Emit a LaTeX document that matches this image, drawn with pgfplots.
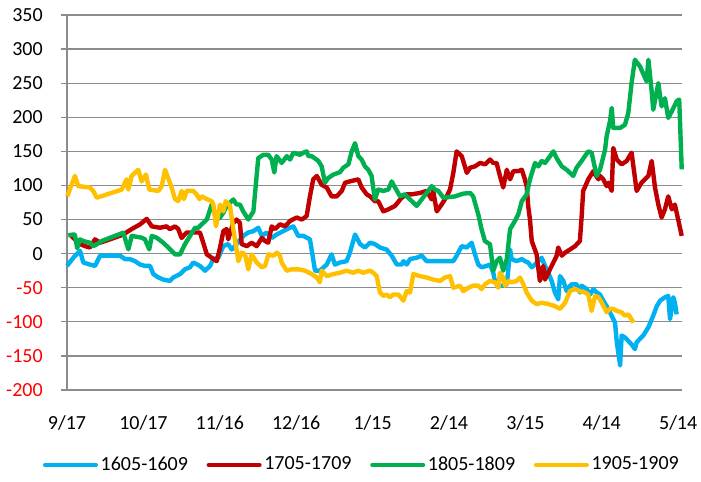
\documentclass[border=0pt]{standalone}
\usepackage{fontspec}
\setmainfont{Carlito}
\usepackage{pgfplots}
\pgfplotsset{compat=1.18}
\definecolor{sBlue}{RGB}{0,176,240}
\definecolor{sRed}{RGB}{192,0,0}
\definecolor{sGreen}{RGB}{0,176,80}
\definecolor{sYellow}{RGB}{255,192,0}
\definecolor{gridgray}{RGB}{140,140,140}
\begin{document}
\fontsize{15}{18}\selectfont
\begin{tikzpicture}
\begin{axis}[
  scale only axis, width=461.25pt, height=281.25pt,
  xmin=0, xmax=241.5, ymin=-200, ymax=350,
  axis x line=bottom, axis y line=left,
  axis line style={-, draw=gridgray, line width=0.9pt},
  ytick={-200,-150,...,350},
  yticklabels={\textcolor{red}{-200},\textcolor{red}{-150},\textcolor{red}{-100},\textcolor{red}{-50},0,50,100,150,200,250,300,350},
  ymajorgrids, grid style={draw=gridgray, line width=0.9pt},
  xtick={0,30,...,240},
  xticklabels={9/17,10/17,11/16,12/16,1/15,2/14,3/15,4/14,5/14},
  xtick style={draw=none},
  ytick style={draw=gridgray, line width=0.9pt},
  tick align=outside, major tick length=4.5pt,
  yticklabel style={anchor=east, inner sep=0pt, xshift=-13.5pt},
  xticklabel style={anchor=base, inner sep=0pt, yshift=-25pt},
  ticklabel style={font=\fontsize{15}{18}\selectfont},
  clip=false,
  legend columns=4,
  legend style={at={(0.48,-0.2)}, anchor=center, draw=none, fill=none,
    font=\fontsize{15}{18}\selectfont,
    /tikz/every even column/.append style={column sep=12pt}},
  legend image code/.code={\draw[#1, line cap=round] (0pt,0pt) -- (38pt,0pt);},
  every axis plot/.append style={line width=3.3pt, line join=round},
]
\coordinate (O) at (rel axis cs:0,0);
\addplot[sBlue] coordinates {(0,-18)(2.5,-6)(5.1,4)(6.4,-13)(9.0,-16)(11.0,-18)(13.0,-3)(16.9,-3)(20.8,-3)(22.8,-8)(24.7,-8)(26.7,-11)(28.7,-16)(30.6,-18)(32.6,-18)(33.9,-30)(35.9,-35)(37.8,-38)(40.4,-40)(41.7,-35)(44.4,-30)(46.3,-23)(48.3,-20)(49.6,-13)(52.2,-18)(54.2,-25)(56.2,-18)(57.4,-8)(59.4,-6)(61.4,11)(63.3,14)(64.7,6)(66.6,14)(69.2,26)(71.2,31)(73.2,33)(75.1,38)(76.5,26)(78.4,31)(80.4,23)(82.3,28)(84.9,33)(87.6,38)(88.9,40)(90.8,26)(92.8,26)(95.4,21)(97.4,-25)(99.3,-25)(102.0,-16)(103.9,-1)(105.2,-16)(107.2,-13)(109.8,-11)(111.1,1.5)(113.1,28)(115.1,14)(117.0,9)(119.0,16)(120.9,14)(122.9,9)(125.5,6)(127.5,-3)(129.5,-16)(131.4,-16)(132.1,-11)(133.4,-16)(134.7,-8)(137.3,-6)(139.3,-3)(141.2,-11)(143.8,-11)(149.1,-11)(151.7,-11)(153.0,-3)(155.0,11)(157.0,9)(158.9,16)(160.2,-1)(161.5,-16)(162.8,-20)(164.8,-18)(166.1,-16)(167.4,-28)(168.1,-42)(169.4,-47)(171.3,-47)(172.7,-45)(173.3,-23)(174.0,6)(174.6,-8)(176.6,-11)(178.6,-8)(179.8,-11)(181.1,-13)(182.5,-20)(183.8,-16)(185.1,-11)(186.4,-6)(187.7,-18)(189.0,-28)(190.3,-40)(191.6,-57)(192.9,-67)(193.6,-33)(194.9,-40)(196.2,-55)(196.9,-50)(198.2,-45)(200.1,-45)(201.4,-57)(202.1,-47)(204.1,-52)(205.4,-60)(206.7,-52)(208.0,-57)(209.3,-60)(210.6,-69)(211.9,-77)(213.2,-86)(214.5,-96)(215.2,-101)(215.9,-130)(217.2,-164)(217.8,-120)(219.1,-123)(220.4,-128)(221.7,-133)(223.0,-140)(223.7,-130)(225.0,-125)(226.3,-120)(228.3,-108)(230.2,-91)(231.6,-77)(232.9,-69)(234.8,-64)(236.1,-62)(236.8,-96)(238.1,-64)(238.7,-72)(239.4,-89)};
\addlegendentry{1605-1609}
\addplot[sRed] coordinates {(1.2,28)(3.1,21)(5.1,14)(7.1,11)(9.0,9)(11.0,21)(13.0,16)(16.9,21)(22.1,28)(24.1,33)(25.4,36)(28.7,43)(31.3,51)(33.3,40)(36.5,38)(39.1,40)(40.4,36)(42.4,40)(43.7,36)(45.0,23)(47.0,31)(52.2,31)(53.5,16)(54.9,-1)(56.8,-6)(58.8,-11)(60.1,9)(61.4,33)(62.7,36)(63.3,21)(65.3,45)(66.6,50)(67.9,45)(68.6,14)(70.6,11)(72.5,16)(74.5,11)(76.5,23)(77.8,18.5)(79.0,16)(80.4,40)(81.7,36)(83.6,43)(85.6,40)(87.6,48)(90.2,53)(92.2,50)(94.1,55)(95.4,84)(96.7,109)(98.1,114)(100.0,101)(102.0,97)(103.9,84)(105.9,84)(107.9,92)(109.2,104)(111.1,106)(114.4,109)(115.7,97)(117.7,87)(119.0,84)(120.9,77)(122.2,77)(124.2,62)(126.2,65)(128.8,70)(131.4,82)(133.4,87)(135.4,87)(138.6,89)(141.2,92)(143.2,79.5)(143.8,92)(145.2,62)(147.1,72)(149.1,84)(150.4,94)(151.7,118.5)(153.0,150)(155.0,143)(157.0,118.5)(158.3,126)(160.2,128)(162.2,133)(164.2,131)(166.1,138)(167.4,133)(168.7,133)(170.0,114)(171.3,97)(172.7,123)(174.0,109)(175.3,121)(177.2,121)(178.6,123)(179.8,109)(180.5,99)(181.1,70)(181.8,50)(182.5,18.5)(184.4,-1)(185.7,-40)(187.0,-18)(187.7,-38)(189.0,-28)(191.0,-13)(192.3,-3)(192.9,9)(194.3,-3)(195.6,1.5)(197.5,6)(199.5,11)(201.4,18.5)(202.1,55)(202.7,92)(204.7,109)(206.7,121)(207.4,116)(208.7,109)(209.3,114)(210.6,109)(211.9,99)(212.6,104)(213.9,92)(214.5,155)(215.9,138)(217.8,131)(219.8,136)(221.7,148)(223.7,92)(225.6,104)(228.3,114)(229.6,136)(230.9,97)(232.2,72)(233.5,53)(234.8,65)(236.1,84)(237.5,65)(238.7,72)(241.4,26)};
\addlegendentry{1705-1709}
\addplot[sGreen] coordinates {(0.5,27)(2.5,28)(3.1,28)(4.0,8)(5.1,21)(6.4,18.5)(9.0,16)(10.3,11)(11.7,13.7)(13.6,18.5)(22.1,30.7)(24.1,6.3)(25.4,26)(29.3,23.4)(30.6,21)(32.3,6.3)(33.3,26)(35.2,23.4)(37.8,16)(39.8,8.8)(42.4,-1)(44.4,-1)(46.3,13.7)(48.3,26)(50.3,38)(51.6,38)(52.9,43)(54.9,50)(56.8,72)(58.8,50)(60.1,53)(61.4,60)(62.7,70)(65.3,79.5)(66.6,72)(67.9,72)(69.2,62)(71.2,50)(73.2,62)(75.1,140)(77.1,145)(79.0,145)(80.4,138)(81.4,119)(82.3,143)(84.3,133)(86.3,143)(87.6,138)(88.9,148)(91.5,145)(92.8,148)(94.1,150)(94.8,143)(96.1,143)(98.7,136)(100.0,128)(101.3,104)(102.6,111)(104.6,116)(107.2,119.5)(108.5,126)(110.5,131)(111.8,150)(113.1,162)(114.4,143)(115.7,138)(117.0,128)(118.3,123)(119.6,114)(120.9,79.5)(122.2,94)(124.2,92)(126.2,94)(127.5,106)(128.8,97)(130.8,84)(132.7,87)(134.7,79.5)(137.3,70)(139.3,79.5)(141.2,89)(143.2,99)(144.5,94)(145.8,92)(147.8,82)(152.4,84)(155.6,88)(158.3,89)(159.5,84)(161.5,57.5)(162.8,35.6)(164.1,18.5)(166.1,13.7)(167.4,-25)(168.7,-11)(170.0,-6)(171.3,-25)(172.7,-8)(174.0,36)(175.9,48)(177.2,57.5)(178.6,77)(180.5,87)(181.8,109)(183.8,133)(185.1,128)(186.4,136)(187.7,133)(189.7,143)(191.0,150)(192.3,140)(194.3,128)(196.2,123)(198.8,114)(200.1,126)(202.1,136)(204.7,150)(206.0,148)(208.0,114)(209.3,123)(211.3,152.7)(211.9,172)(213.2,194)(213.9,213.7)(214.5,184.4)(217.2,184.4)(219.1,189)(220.4,206)(221.7,250)(223.0,284.4)(225.0,274.6)(227.6,252.7)(228.3,284.4)(229.6,238)(230.2,211)(232.2,250)(232.9,230.7)(233.5,216)(234.8,228)(236.1,199)(237.5,208.8)(239.4,223.4)(240.4,226)(241.4,123.5)};
\addlegendentry{1805-1809}
\addplot[sYellow] coordinates {(0.1,84)(3.1,114)(4.4,99)(9.0,97)(10.3,92)(11.7,82)(21.5,94)(23.4,109)(24.1,94)(25.4,114)(28.0,123)(29.3,106)(31.0,116)(32.3,94)(35.9,92)(37.2,99)(38.5,123)(41.1,97)(42.4,80)(43.7,77)(45.0,92)(45.9,80)(47.0,92)(49.6,92)(50.9,87)(52.0,80)(52.9,84)(54.9,80)(56.8,77)(57.5,72)(58.5,40)(60.1,72)(61.4,62)(62.3,77)(64.0,70)(65.3,36)(67.3,-11)(68.6,1.5)(69.9,-1)(71.2,-23)(72.5,-1)(74.5,-13)(76.5,-20)(77.8,-18)(79.1,-1)(81.1,-3)(82.4,1.5)(83.6,-3)(84.3,-13)(86.3,-25)(88.2,-23)(90.8,-23)(93.5,-25)(96.1,-30)(98.1,-35)(99.3,-42)(100.0,-25)(102.0,-33)(104.6,-30)(107.2,-28)(109.8,-25)(112.4,-28)(114.4,-25)(116.3,-28)(119.0,-25)(120.3,-28)(121.6,-33)(122.9,-57)(124.2,-62)(125.5,-60)(126.8,-64)(128.1,-60)(130.1,-60)(132.1,-69)(133.4,-55)(134.7,-57)(136.0,-30)(138.6,-33)(141.2,-35)(143.8,-38)(146.5,-40)(148.4,-35)(150.4,-33)(151.7,-50)(154.3,-47)(155.6,-55)(157.6,-50)(159.5,-47)(161.5,-47)(162.8,-52)(164.1,-45)(166.1,-40)(168.1,-42)(169.4,-50)(170.0,-28)(171.3,-35)(172.0,-47)(173.3,-40)(174.6,-42)(176.6,-40)(177.9,-35)(179.2,-45)(180.5,-57)(182.5,-69)(184.4,-74)(186.4,-72)(189.0,-74)(191.6,-77)(193.6,-81)(195.6,-72)(197.5,-55)(199.5,-52)(201.4,-55)(203.4,-57)(204.7,-60)(206.0,-84)(207.4,-62)(208.7,-64)(210.0,-72)(211.9,-86)(213.2,-81)(214.5,-81)(215.9,-84)(217.8,-86)(219.1,-91)(220.4,-89)(222.5,-101)};
\addlegendentry{1905-1909}
\end{axis}
\pgfresetboundingbox
\path[use as bounding box] ([xshift=-50.25pt,yshift=-69pt]O) rectangle ++(525.75pt,361.5pt);
\end{tikzpicture}
\end{document}
